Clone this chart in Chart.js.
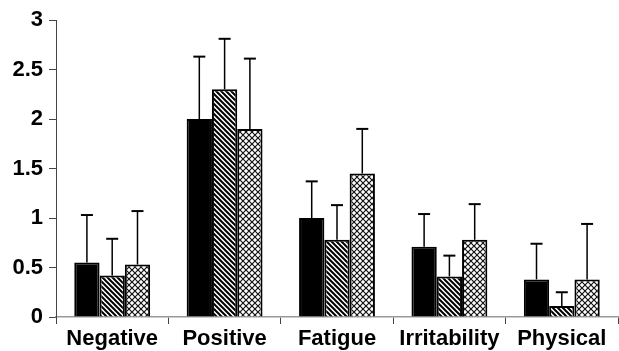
<!DOCTYPE html>
<html>
<head>
<meta charset="utf-8">
<script src="https://cdn.jsdelivr.net/npm/chart.js@4.4.1/dist/chart.umd.min.js"></script>
<style>
  html, body { margin: 0; padding: 0; background: #fff; }
  #wrap { width: 619px; height: 351px; position: relative; }
</style>
</head>
<body>
<div id="wrap"><canvas id="c"></canvas></div>
<script>
const categories = ["Negative", "Positive", "Fatigue", "Irritability", "Physical"];
const seriesSolid   = [0.55, 2.00, 1.00, 0.71, 0.38];
const seriesHatched = [0.42, 2.30, 0.78, 0.41, 0.11];
const seriesCross   = [0.53, 1.90, 1.45, 0.78, 0.38];
const errSolid   = [1.03, 2.63, 1.37, 1.04, 0.74];
const errHatched = [0.79, 2.81, 1.13, 0.62, 0.25];
const errCross   = [1.07, 2.61, 1.90, 1.14, 0.94];
const yTickLabels = ["0", "0.5", "1", "1.5", "2", "2.5", "3"];

function makeDiagPattern() {
  const p = 5;
  const cv = document.createElement('canvas');
  cv.width = p; cv.height = p;
  const g = cv.getContext('2d');
  g.fillStyle = '#fff'; g.fillRect(0, 0, p, p);
  g.strokeStyle = '#000'; g.lineWidth = 2;
  g.beginPath();
  g.moveTo(-1, -1); g.lineTo(p + 1, p + 1);
  g.moveTo(-1, p - 1); g.lineTo(1, p + 1);
  g.moveTo(p - 1, -1); g.lineTo(p + 1, 1);
  g.stroke();
  return g.createPattern(cv, 'repeat');
}
function makeCrossPattern() {
  const p = 6;
  const cv = document.createElement('canvas');
  cv.width = p; cv.height = p;
  const g = cv.getContext('2d');
  g.fillStyle = '#fff'; g.fillRect(0, 0, p, p);
  g.strokeStyle = '#111'; g.lineWidth = 1.2;
  g.beginPath();
  g.moveTo(0, 0); g.lineTo(p, p);
  g.moveTo(p, 0); g.lineTo(0, p);
  g.stroke();
  return g.createPattern(cv, 'repeat');
}

const errorBars = {
  id: 'errorBars',
  afterDatasetsDraw(chart) {
    const ctx = chart.ctx;
    const yScale = chart.scales.y;
    ctx.save();
    ctx.strokeStyle = '#000';
    chart.data.datasets.forEach((ds, i) => {
      const meta = chart.getDatasetMeta(i);
      meta.data.forEach((el, j) => {
        const yTop = yScale.getPixelForValue(ds.errTop[j]);
        ctx.lineWidth = 1.5;
        ctx.beginPath();
        ctx.moveTo(el.x, el.y);
        ctx.lineTo(el.x, yTop);
        ctx.stroke();
        ctx.lineWidth = 2;
        ctx.beginPath();
        ctx.moveTo(el.x - 6, yTop);
        ctx.lineTo(el.x + 6, yTop);
        ctx.stroke();
      });
    });
    ctx.restore();
  }
};

const fontFam = '"Liberation Sans", Arial, sans-serif';

new Chart(document.getElementById('c'), {
  type: 'bar',
  data: {
    labels: categories,
    datasets: [
      { label: 'A', data: seriesSolid, errTop: errSolid, backgroundColor: '#000', borderColor: '#000', borderWidth: 2 },
      { label: 'B', data: seriesHatched, errTop: errHatched, backgroundColor: makeDiagPattern(), borderColor: '#000', borderWidth: 2 },
      { label: 'C', data: seriesCross, errTop: errCross, backgroundColor: makeCrossPattern(), borderColor: '#000', borderWidth: 2 }
    ]
  },
  options: {
    responsive: true,
    maintainAspectRatio: false,
    animation: false,
    layout: { padding: { top: 20, left: 0, right: 1, bottom: 0 } },
    plugins: { legend: { display: false }, tooltip: { enabled: false } },
    datasets: { bar: { categoryPercentage: 0.675, barPercentage: 1.0 } },
    scales: {
      x: {
        grid: { drawOnChartArea: false, color: '#444', tickLength: 7, lineWidth: 1 },
        border: { color: '#999', width: 1.5 },
        ticks: { color: '#000', padding: 2, font: { family: fontFam, size: 22, weight: 'bold' } },
        afterFit(s) { s.height = 34; }
      },
      y: {
        min: 0, max: 3,
        grid: { drawOnChartArea: false, color: '#444', tickLength: 7 },
        border: { color: '#444', width: 1 },
        ticks: {
          stepSize: 0.5,
          color: '#000',
          padding: 6,
          font: { family: fontFam, size: 22, weight: 'bold' },
          callback: (v, i) => yTickLabels[i]
        },
        afterFit(s) { s.width = 56; }
      }
    }
  },
  plugins: [errorBars]
});
</script>
</body>
</html>
